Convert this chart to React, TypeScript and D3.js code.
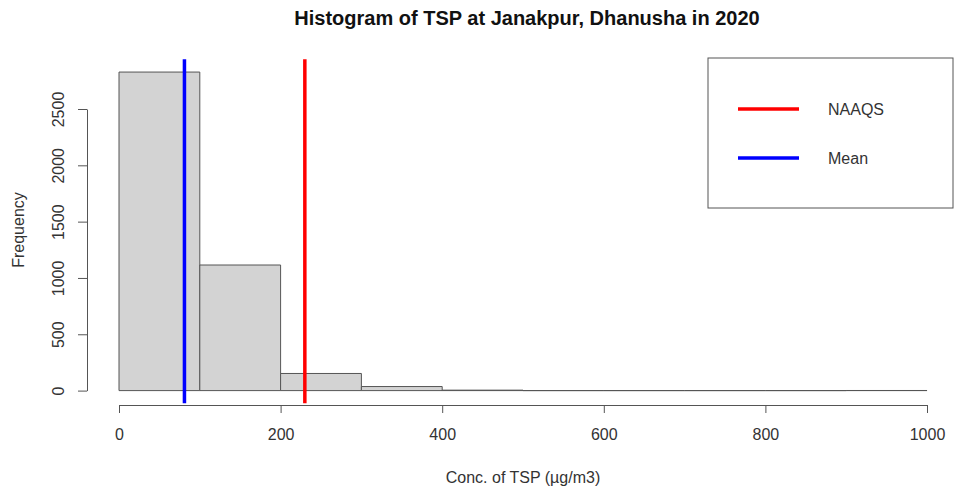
import React, { useEffect, useRef } from "react";
import * as d3 from "d3";

// histogram bins (µg/m3) and counts
const binStarts = [0, 100, 200, 300, 400, 500, 600, 700, 800, 900];
const binWidth = 100;
const counts = [2828, 1115, 152, 36, 4, 0, 0, 0, 0, 1];
const xTicks = [0, 200, 400, 600, 800, 1000];
const yTicks = [0, 500, 1000, 1500, 2000, 2500];
const naaqs = 230;
const meanValue = 81;
const legendItems = [
  { label: "NAAQS", color: "#ff0000" },
  { label: "Mean", color: "#0000ff" },
];

const App = () => {
  const ref = useRef<SVGSVGElement>(null);

  useEffect(() => {
    const width = 955,
      height = 490;
    const svg = d3.select(ref.current);
    svg.selectAll("*").remove();
    svg.attr("width", width).attr("height", height);

    const font = "'Liberation Sans', Arial, sans-serif";
    const textColor = "#333";

    const x = d3.scaleLinear().domain([0, 1000]).range([119, 927]);
    const y = d3.scaleLinear().domain([0, 2500]).range([390.6, 109]);

    // R style plot region: data range padded by 4%
    const yMax = d3.max(counts) as number;
    const yTop = y(yMax * 1.04);
    const yBottom = y(-yMax * 0.04);

    // bars drawn as paths so empty bins still show as a flat line
    svg
      .append("g")
      .selectAll("path")
      .data(binStarts)
      .enter()
      .append("path")
      .attr("d", (d, i) => {
        const p = d3.path();
        p.moveTo(x(d), y(0));
        p.lineTo(x(d), y(counts[i]));
        p.lineTo(x(d + binWidth), y(counts[i]));
        p.lineTo(x(d + binWidth), y(0));
        p.closePath();
        return p.toString();
      })
      .attr("fill", "#d3d3d3")
      .attr("stroke", "#555")
      .attr("stroke-width", 1);

    // x axis
    const xAxis = svg
      .append("g")
      .attr("transform", `translate(0,405)`)
      .call(d3.axisBottom(x).tickValues(xTicks).tickSize(8).tickPadding(16).tickFormat(d3.format("d")));
    xAxis.select(".domain").attr("stroke", "#555");
    xAxis.selectAll(".tick line").attr("stroke", "#555");
    xAxis
      .selectAll("text")
      .style("font-family", font)
      .style("font-size", "16px")
      .attr("fill", textColor);

    // y axis
    const yAxis = svg
      .append("g")
      .attr("transform", `translate(87,0)`)
      .call(d3.axisLeft(y).tickValues(yTicks).tickSize(9).tickSizeOuter(0).tickFormat(d3.format("d")));
    yAxis.select(".domain").attr("stroke", "#555");
    yAxis.selectAll(".tick line").attr("stroke", "#555");
    yAxis
      .selectAll("text")
      .attr("x", 0)
      .attr("dy", 0)
      .attr("transform", "translate(-29,0) rotate(-90)")
      .attr("text-anchor", "middle")
      .attr("dominant-baseline", "central")
      .style("font-family", font)
      .style("font-size", "16px")
      .attr("fill", textColor);

    // NAAQS and mean lines
    svg
      .append("line")
      .attr("x1", x(naaqs))
      .attr("x2", x(naaqs))
      .attr("y1", yTop)
      .attr("y2", yBottom)
      .attr("stroke", "#ff0000")
      .attr("stroke-width", 3.5);
    svg
      .append("line")
      .attr("x1", x(meanValue))
      .attr("x2", x(meanValue))
      .attr("y1", yTop)
      .attr("y2", yBottom)
      .attr("stroke", "#0000ff")
      .attr("stroke-width", 3.5);

    // legend
    const legend = svg.append("g");
    legend
      .append("rect")
      .attr("x", 708)
      .attr("y", 58)
      .attr("width", 245)
      .attr("height", 150)
      .attr("fill", "white")
      .attr("stroke", "#555");
    legendItems.forEach((item, i) => {
      const ly = 109 + i * 49;
      legend
        .append("line")
        .attr("x1", 738)
        .attr("x2", 799)
        .attr("y1", ly)
        .attr("y2", ly)
        .attr("stroke", item.color)
        .attr("stroke-width", 3.5);
      legend
        .append("text")
        .attr("x", 828)
        .attr("y", ly)
        .attr("dominant-baseline", "central")
        .style("font-family", font)
        .style("font-size", "16px")
        .attr("fill", textColor)
        .text(item.label);
    });

    // title and axis labels
    svg
      .append("text")
      .attr("x", 527)
      .attr("y", 25)
      .attr("text-anchor", "middle")
      .style("font-family", font)
      .style("font-size", "20px")
      .style("font-weight", "bold")
      .attr("fill", "#111")
      .text("Histogram of TSP at Janakpur, Dhanusha in 2020");

    svg
      .append("text")
      .attr("x", 523)
      .attr("y", 483)
      .attr("text-anchor", "middle")
      .style("font-family", font)
      .style("font-size", "16px")
      .attr("fill", textColor)
      .text("Conc. of TSP (µg/m3)");

    svg
      .append("text")
      .attr("transform", "translate(24,230) rotate(-90)")
      .attr("text-anchor", "middle")
      .style("font-family", font)
      .style("font-size", "16px")
      .attr("fill", textColor)
      .text("Frequency");
  }, []);

  return <svg ref={ref} style={{ position: "absolute", left: 0, top: 0 }}></svg>;
};

export default App;
